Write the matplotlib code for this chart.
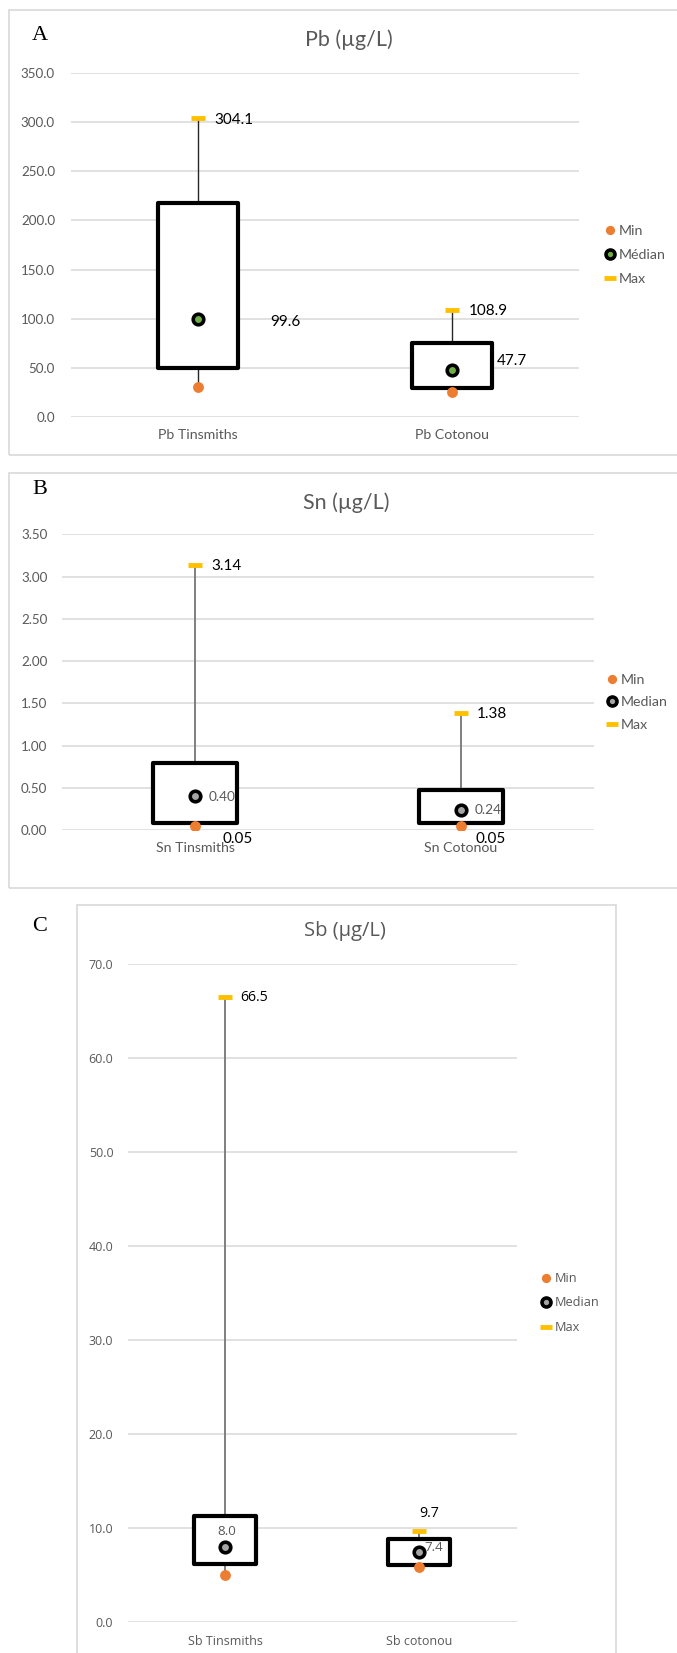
import matplotlib
matplotlib.use("Agg")
import matplotlib.pyplot as plt
from matplotlib.patches import Rectangle

# ---------------- data ----------------
pb_categories = ["Pb Tinsmiths", "Pb Cotonou"]
pb_min = [30.6, 25.5]
pb_q1 = [50.0, 29.6]
pb_median = [99.6, 47.7]
pb_q3 = [218.0, 75.5]
pb_max = [304.1, 108.9]
pb_ticks = [0, 50, 100, 150, 200, 250, 300, 350]

sn_categories = ["Sn Tinsmiths", "Sn Cotonou"]
sn_min = [0.05, 0.05]
sn_q1 = [0.08, 0.08]
sn_median = [0.40, 0.24]
sn_q3 = [0.79, 0.47]
sn_max = [3.14, 1.38]
sn_ticks = [0.0, 0.5, 1.0, 1.5, 2.0, 2.5, 3.0, 3.5]

sb_categories = ["Sb Tinsmiths", "Sb cotonou"]
sb_min = [5.0, 5.9]
sb_q1 = [6.2, 6.1]
sb_median = [8.0, 7.4]
sb_q3 = [11.3, 8.85]
sb_max = [66.5, 9.7]
sb_ticks = [0, 10, 20, 30, 40, 50, 60, 70]

# ---------------- layout helpers ----------------
W, H = 677, 1653
DPI = 100
fig = plt.figure(figsize=(W / DPI, H / DPI), dpi=DPI)
fig.patch.set_facecolor("white")

GREY_TXT = "#595959"
GRID = "#D9D9D9"
ORANGE = "#ED7D31"
GOLD = "#FFC000"


def fx(x):
    return x / W


def fy(y):
    return 1 - y / H


def border(x0, y0, x1, y1):
    fig.patches.append(Rectangle((fx(x0), fy(y1)), fx(x1 - x0), (y1 - y0) / H,
                                 transform=fig.transFigure, fill=False,
                                 edgecolor="#D9D9D9", lw=1.2, zorder=0))


def panel(cats, vmin, q1, med, q3, vmax, ticks, fmt, cfg):
    x0, x1, yt, yb = cfg["axes"]
    ax = fig.add_axes([fx(x0), fy(yb), fx(x1 - x0), (yb - yt) / H])
    ax.set_xlim(-0.5, 1.5)
    ax.set_ylim(ticks[0], ticks[-1])
    ax.set_yticks(ticks)
    ax.set_yticklabels([fmt.format(t) for t in ticks])
    ax.set_xticks(range(len(cats)))
    ax.set_xticklabels(cats)
    for s in ax.spines.values():
        s.set_visible(False)
    ax.tick_params(length=0, colors=GREY_TXT)
    ax.tick_params(axis="y", pad=cfg["ypad"], labelsize=cfg["tick_fs"])
    ax.tick_params(axis="x", pad=cfg["xpad"], labelsize=cfg["cat_fs"])
    for lab in ax.get_xticklabels() + ax.get_yticklabels():
        lab.set_family(cfg["font"])
    ax.grid(axis="y", color=GRID, lw=1.1)
    ax.set_axisbelow(True)
    ax.patch.set_alpha(0)

    xs = list(range(len(cats)))
    bw = cfg["bw"]
    for i in xs:
        ax.vlines(i, vmin[i], vmax[i], color=cfg["wcolor"], lw=cfg["wlw"], zorder=2)
        ax.add_patch(Rectangle((i - bw / 2, q1[i]), bw, q3[i] - q1[i],
                               facecolor="white", edgecolor="black",
                               lw=3.0, zorder=3, joinstyle="round"))
    h_min, = ax.plot(xs, vmin, ls="none", marker="o", ms=7.8, mfc=ORANGE,
                     mec=ORANGE, mew=0, zorder=4, label="Min")
    h_med, = ax.plot(xs, med, ls="none", marker="o", ms=7.6, mfc=cfg["medc"],
                     mec="black", mew=2.6, zorder=5, label=cfg["medlabel"])
    h_max, = ax.plot(xs, vmax, ls="none", marker="_", ms=10, mew=3.5,
                     color=GOLD, zorder=5, label="Max")

    # data labels
    for key, vals in (("max", vmax), ("med", med), ("min", vmin)):
        for i, spec in enumerate(cfg["labels"].get(key, [])):
            dx, dy, ha, col, fs = spec
            ax.annotate(fmt.format(vals[i]), (i, vals[i]), xytext=(dx, dy),
                        textcoords="offset pixels", ha=ha, va="center",
                        color=col, fontsize=fs, family=cfg["font"], zorder=6,
                        annotation_clip=False)

    lx, ly = cfg["legend"]
    ax.legend(handles=[h_min, h_med, h_max], loc="center left",
              bbox_to_anchor=(fx(lx), fy(ly)), bbox_transform=fig.transFigure,
              frameon=False, handlelength=0.7, handletextpad=0.3,
              labelspacing=cfg["lsp"], borderpad=0, borderaxespad=0,
              prop={"family": cfg["font"], "size": cfg["leg_fs"]},
              labelcolor=GREY_TXT, numpoints=1, markerscale=0.85)

    tx, ty = cfg["title"]
    fig.text(fx(tx), fy(ty), cfg["title_text"], ha="center", va="center",
             color=GREY_TXT, fontsize=cfg["title_fs"], family=cfg["font"])
    lx2, ly2 = cfg["letter"]
    fig.text(fx(lx2), fy(ly2), cfg["letter_text"], ha="center", va="center",
             color="black", fontsize=16, family="Liberation Serif")
    return ax


# ---------------- panel A ----------------
border(9, 10, W + 5, 455)
panel(pb_categories, pb_min, pb_q1, pb_median, pb_q3, pb_max, pb_ticks, "{:.1f}",
      dict(axes=(71, 579, 73.3, 416.7), font="Lato", ypad=11.5, xpad=9,
           tick_fs=9.6, cat_fs=10.2, bw=0.315, wcolor="#262626", wlw=1.0,
           medc="#70AD47", medlabel="Médian",
           labels={"max": [(16, -1.7, "left", "black", 11), (16.5, -1, "left", "black", 11)],
                   "med": [(72, -3, "left", "black", 11), (44.5, 9.3, "left", "black", 11)]},
           legend=(605, 255.3), lsp=0.85, leg_fs=10.2,
           title=(349, 40), title_text="Pb (µg/L)", title_fs=15.5,
           letter=(40, 36), letter_text="A"))

# ---------------- panel B ----------------
border(9, 472.7, W + 5, 888)
panel(sn_categories, sn_min, sn_q1, sn_median, sn_q3, sn_max, sn_ticks, "{:.2f}",
      dict(axes=(62.2, 593.6, 534.3, 830), font="Lato", ypad=10.7, xpad=9,
           tick_fs=9.6, cat_fs=10.2, bw=0.317, wcolor="#7F7F7F", wlw=1.4,
           medc="#A5A5A5", medlabel="Median",
           labels={"max": [(16.7, -1, "left", "black", 11), (16.3, -0.7, "left", "black", 11)],
                   "med": [(14, -1, "left", GREY_TXT, 9.8), (14.3, -0.3, "left", GREY_TXT, 9.8)],
                   "min": [(27.7, -13.3, "left", "black", 11), (14.3, -13.3, "left", "black", 11)]},
           legend=(607, 702.3), lsp=0.75, leg_fs=10.2,
           title=(346.7, 502.3), title_text="Sn (µg/L)", title_fs=15.5,
           letter=(40, 490), letter_text="B"))

# ---------------- panel C ----------------
border(77.3, 904.7, 615.7, H + 5)
panel(sb_categories, sb_min, sb_q1, sb_median, sb_q3, sb_max, sb_ticks, "{:.1f}",
      dict(axes=(127.9, 516.5, 963.8, 1622), font="Open Sans", ypad=10.5, xpad=9.5,
           tick_fs=9.0, cat_fs=9.0, bw=0.32, wcolor="#7F7F7F", wlw=1.4,
           medc="#A5A5A5", medlabel="Median",
           labels={"max": [(15, -0.6, "left", "black", 10.2), (9.7, 17.3, "center", "black", 10.2)],
                   "med": [(1.7, 15.6, "center", GREY_TXT, 9.6), (4.7, 5, "left", GREY_TXT, 9.6)]},
           legend=(542, 1303), lsp=0.9, leg_fs=9.2,
           title=(345.4, 931.4), title_text="Sb (µg/L)", title_fs=14.5,
           letter=(40, 926.8), letter_text="C"))

fig.savefig("out.png", dpi=DPI, facecolor="white")
